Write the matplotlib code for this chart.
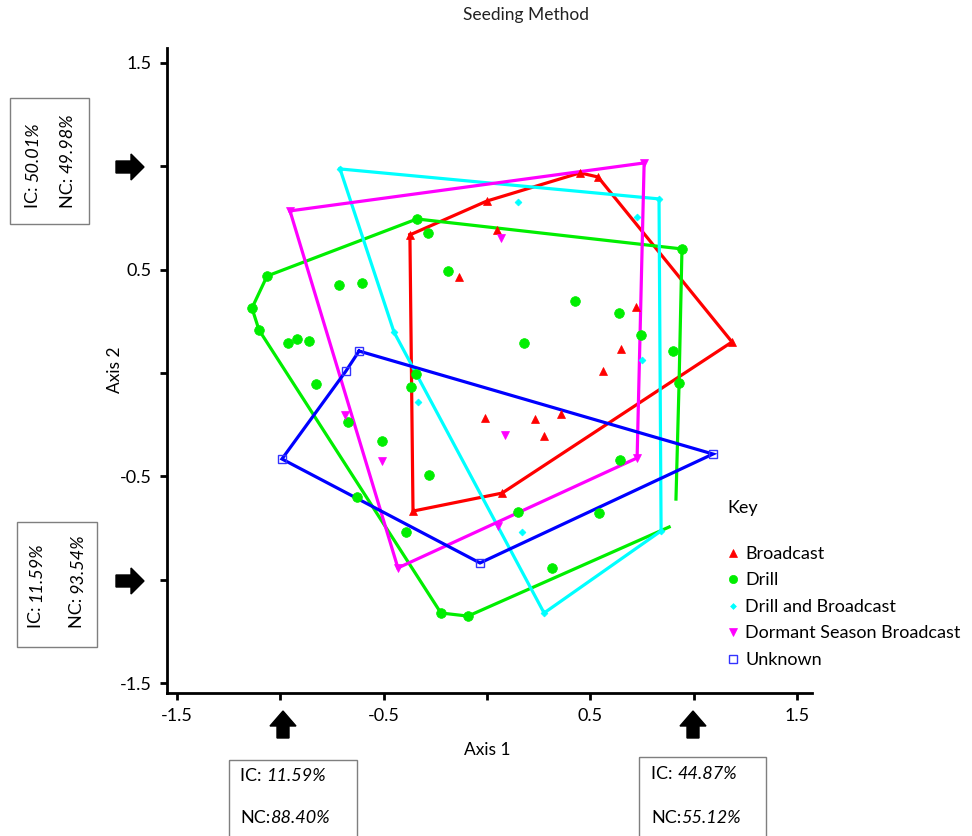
import matplotlib
matplotlib.use("Agg")
import matplotlib.pyplot as plt
from matplotlib import font_manager as fm
from matplotlib.text import Annotation
from matplotlib.transforms import Affine2D
from matplotlib.patches import Polygon, Rectangle
from matplotlib.lines import Line2D

plt.rcParams['font.family'] = ['Lato', 'DejaVu Sans']

# pick a family that really has an italic face for the italic numbers
ital_family = 'DejaVu Sans'
for fam in ['Lato', 'Open Sans', 'Noto Sans', 'Liberation Sans']:
    if any(f.name == fam and f.style in ('italic', 'oblique') for f in fm.fontManager.ttflist):
        ital_family = fam
        break

# ---------------- data ----------------
broadcast_x = [-0.373, 0.000, 0.450, 0.537, 1.185, 0.073, -0.358, -0.135, 0.048, 0.721,
               0.648, 0.561, -0.010, 0.232, 0.358, 0.276]
broadcast_y = [0.668, 0.832, 0.968, 0.948, 0.150, -0.581, -0.668, 0.464, 0.692, 0.319,
               0.116, 0.010, -0.218, -0.223, -0.198, -0.305]
broadcast_hull_x = [-0.373, 0.000, 0.450, 0.537, 1.185, 0.073, -0.358, -0.373]
broadcast_hull_y = [0.668, 0.832, 0.968, 0.948, 0.150, -0.581, -0.668, 0.668]

drill_x = [-0.339, 0.943, 0.929, -1.064, -1.137, -1.103, -0.223, -0.092, -0.285, -0.189,
           -0.716, -0.605, -0.963, -0.919, -0.861, -0.827, -0.343, -0.368, 0.426, 0.639,
           0.745, 0.179, 0.900, -0.672, -0.508, -0.281, -0.629, -0.392, 0.643, 0.150,
           0.542, 0.314]
drill_y = [0.745, 0.600, -0.048, 0.469, 0.314, 0.208, -1.161, -1.176, 0.677, 0.493,
           0.426, 0.435, 0.145, 0.164, 0.155, -0.053, -0.005, -0.068, 0.348, 0.290,
           0.184, 0.145, 0.106, -0.237, -0.329, -0.493, -0.600, -0.769, -0.421, -0.672,
           -0.677, -0.943]
drill_hull_x = [0.914, 0.929, 0.943, -0.339, -1.064, -1.137, -1.103, -0.223, -0.092, 0.881]
drill_hull_y = [-0.610, -0.048, 0.600, 0.745, 0.469, 0.314, 0.208, -1.161, -1.176, -0.745]

dnb_x = [-0.711, 0.832, 0.842, 0.276, -0.450, -0.334, 0.150, 0.726, 0.750, 0.169]
dnb_y = [0.987, 0.842, -0.764, -1.161, 0.198, -0.140, 0.827, 0.755, 0.063, -0.769]
dnb_hull_x = [-0.711, 0.832, 0.842, 0.276, -0.450, -0.711]
dnb_hull_y = [0.987, 0.842, -0.764, -1.161, 0.198, 0.987]

dsb_x = [-0.953, 0.760, 0.726, -0.431, 0.053, -0.687, 0.068, -0.508, 0.087]
dsb_y = [0.784, 1.016, -0.411, -0.943, -0.740, -0.203, 0.653, -0.426, -0.300]
dsb_hull_x = [-0.953, 0.760, 0.726, -0.431, -0.953]
dsb_hull_y = [0.784, 1.016, -0.411, -0.943, 0.784]

unk_x = [-0.619, -0.682, -0.992, -0.034, 1.093]
unk_y = [0.106, 0.010, -0.416, -0.919, -0.392]
unk_hull_x = [-0.619, 1.093, -0.034, -0.992, -0.682, -0.619]
unk_hull_y = [0.106, -0.392, -0.919, -0.416, 0.010, 0.106]

group_labels = ["Broadcast", "Drill", "Drill and Broadcast", "Dormant Season Broadcast", "Unknown"]
tick_values = [-1.5, -1.0, -0.5, 0.0, 0.5, 1.0, 1.5]
tick_labels = ["-1.5", "", "-0.5", "", "0.5", "", "1.5"]

# ---------------- figure ----------------
W, H = 972, 836
fig = plt.figure(figsize=(W / 100, H / 100), dpi=100)
ax = fig.add_axes([167 / W, 1 - 693 / H, 645 / W, 645 / H])
px = Affine2D().scale(1 / W, -1 / H).translate(0, 1) + fig.transFigure

lw = 2.3
groups = [
    (broadcast_x, broadcast_y, broadcast_hull_x, broadcast_hull_y,
     dict(marker='^', color='#FF0000', ms=6, mfc='#FF0000', mec='#FF0000')),
    (drill_x, drill_y, drill_hull_x, drill_hull_y,
     dict(marker='o', color='#00EE00', ms=7, mfc='#00EE00', mec='#00EE00')),
    (dnb_x, dnb_y, dnb_hull_x, dnb_hull_y,
     dict(marker='D', color='#00FFFF', ms=3.5, mfc='#00FFFF', mec='#00FFFF')),
    (dsb_x, dsb_y, dsb_hull_x, dsb_hull_y,
     dict(marker='v', color='#FF00FF', ms=6, mfc='#FF00FF', mec='#FF00FF')),
    (unk_x, unk_y, unk_hull_x, unk_hull_y,
     dict(marker='s', color='#0000FF', ms=6, mfc='none', mec='#3333FF', mew=1.0)),
]
for gx, gy, hx, hy, st in groups:
    ax.plot(hx, hy, '-', color=st['color'], lw=lw, zorder=2, solid_joinstyle='miter')
for gx, gy, hx, hy, st in groups:
    ax.plot(gx, gy, linestyle='none', marker=st['marker'], ms=st['ms'],
            mfc=st['mfc'], mec=st['mec'], mew=st.get('mew', 0.5), zorder=3)

ax.set_xlim(-1.548, 1.572)
ax.set_ylim(-1.548, 1.572)
ax.set_xticks(tick_values)
ax.set_xticklabels(tick_labels)
ax.set_yticks(tick_values)
ax.set_yticklabels(tick_labels)
for s in ['top', 'right']:
    ax.spines[s].set_visible(False)
for s in ['left', 'bottom']:
    ax.spines[s].set_linewidth(2.0)
ax.tick_params(direction='out', length=5, width=2.0, labelsize=13, pad=6, colors='black')
ax.patch.set_alpha(0)

# titles and axis labels
fig.text(526 / W, 1 - 15 / H, "Seeding Method", ha='center', va='center', fontsize=12.5, color='#222222')
fig.text(487 / W, 1 - 750 / H, "Axis 1", ha='center', va='center', fontsize=12.5)
fig.text(115 / W, 1 - 370 / H, "Axis 2", ha='center', va='center', fontsize=12.5, rotation=90)

# legend
handles = [Line2D([], [], linestyle='none', marker=st['marker'], ms=st['ms'] * 0.85,
                  mfc=st['mfc'], mec=st['mec'], mew=st.get('mew', 0.5))
           for *_, st in groups]
fig.text(727 / W, 1 - 508 / H, "Key", ha='left', va='center', fontsize=13)
fig.legend(handles, group_labels, loc='upper left', bbox_to_anchor=(727 / W, 1 - 546 / H),
           frameon=False, fontsize=13, handlelength=0.7, handletextpad=0.3,
           labelspacing=0.58, borderpad=0, borderaxespad=0)

# arrows
def right_arrow(cx, cy):
    pts = [(cx - 12, cy - 6), (cx + 3, cy - 6), (cx + 3, cy - 13), (cx + 16, cy),
           (cx + 3, cy + 13), (cx + 3, cy + 6), (cx - 12, cy + 6)]
    fig.patches.append(Polygon(pts, closed=True, transform=px, color='black', figure=fig))

def up_arrow(cx, tip):
    pts = [(cx, tip), (cx + 13, tip + 15), (cx + 6, tip + 15), (cx + 6, tip + 27),
           (cx - 6, tip + 27), (cx - 6, tip + 15), (cx - 13, tip + 15)]
    fig.patches.append(Polygon(pts, closed=True, transform=px, color='black', figure=fig))

right_arrow(128, 167)
right_arrow(128, 581)
up_arrow(283, 711)
up_arrow(693, 711)

# boxes
def box(x0, y0, x1, y1):
    fig.patches.append(Rectangle((x0, y0), x1 - x0, y1 - y0, transform=px, fill=False,
                                 edgecolor='#7f7f7f', lw=1.0, figure=fig))

fs_box = 13

def h_label(x, y, prefix, number):
    t = fig.text(x / W, 1 - y / H, prefix, ha='left', va='center', fontsize=fs_box)
    a = Annotation(number, xy=(1, 0), xycoords=t, xytext=(0, 0), textcoords='offset points',
                   ha='left', va='bottom', fontsize=fs_box, fontstyle='italic',
                   family=[ital_family, 'DejaVu Sans'])
    a.set_figure(fig)
    fig.texts.append(a)

def v_label(x, y_bottom, prefix, number):
    t = fig.text(x / W, 1 - y_bottom / H, prefix, ha='center', va='bottom', fontsize=fs_box,
                 rotation=90)
    a = Annotation(number, xy=(0.5, 1), xycoords=t, xytext=(0, 0), textcoords='offset points',
                   ha='center', va='bottom', fontsize=fs_box, fontstyle='italic', rotation=90,
                   family=[ital_family, 'DejaVu Sans'])
    a.set_figure(fig)
    fig.texts.append(a)

box(10, 98, 89, 224)
v_label(33, 208, "IC: ", "50.01%")
v_label(68, 208, "NC: ", "49.98%")

box(17, 522, 97, 647)
v_label(36, 628, "IC: ", "11.59%")
v_label(77, 628, "NC: ", "93.54%")

box(229, 760, 357, 845)
h_label(240, 776, "IC: ", "11.59%")
h_label(240, 818, "NC:", "88.40%")

box(639, 757, 766, 845)
h_label(651, 774, "IC: ", "44.87%")
h_label(651, 818, "NC:", "55.12%")

fig.savefig("out.png", dpi=100, facecolor='white')
